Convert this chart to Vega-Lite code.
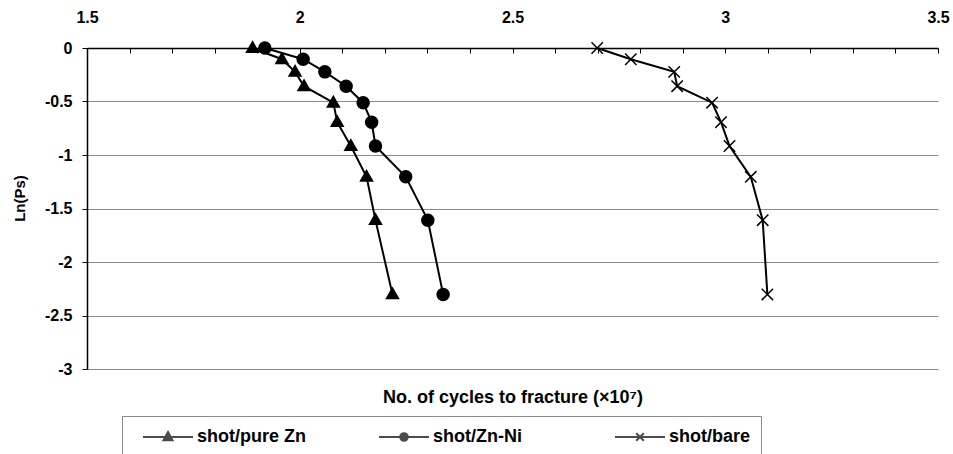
{
  "$schema": "https://vega.github.io/schema/vega-lite/v6.json",
  "width": 851,
  "height": 321,
  "autosize": {"type": "none"},
  "padding": {"left": 87, "top": 48, "right": 15, "bottom": 85},
  "background": "white",
  "config": {
    "view": {"stroke": null},
    "font": "Liberation Sans",
    "axis": {
      "labelFont": "Liberation Sans",
      "labelFontWeight": "bold",
      "labelFontSize": 16,
      "labelColor": "black",
      "titleFont": "Liberation Sans",
      "titleFontWeight": "bold",
      "titleFontSize": 18,
      "titleColor": "black"
    }
  },
  "data": {
    "values": [
      {"series": "shot/pure Zn", "cycles": 1.889, "lnps": 0},
      {"series": "shot/pure Zn", "cycles": 1.958, "lnps": -0.105},
      {"series": "shot/pure Zn", "cycles": 1.989, "lnps": -0.223},
      {"series": "shot/pure Zn", "cycles": 2.010, "lnps": -0.357},
      {"series": "shot/pure Zn", "cycles": 2.079, "lnps": -0.511},
      {"series": "shot/pure Zn", "cycles": 2.088, "lnps": -0.693},
      {"series": "shot/pure Zn", "cycles": 2.120, "lnps": -0.916},
      {"series": "shot/pure Zn", "cycles": 2.157, "lnps": -1.204},
      {"series": "shot/pure Zn", "cycles": 2.178, "lnps": -1.609},
      {"series": "shot/pure Zn", "cycles": 2.218, "lnps": -2.303},
      {"series": "shot/Zn-Ni", "cycles": 1.918, "lnps": 0},
      {"series": "shot/Zn-Ni", "cycles": 2.008, "lnps": -0.105},
      {"series": "shot/Zn-Ni", "cycles": 2.059, "lnps": -0.223},
      {"series": "shot/Zn-Ni", "cycles": 2.109, "lnps": -0.357},
      {"series": "shot/Zn-Ni", "cycles": 2.149, "lnps": -0.511},
      {"series": "shot/Zn-Ni", "cycles": 2.169, "lnps": -0.693},
      {"series": "shot/Zn-Ni", "cycles": 2.178, "lnps": -0.916},
      {"series": "shot/Zn-Ni", "cycles": 2.249, "lnps": -1.204},
      {"series": "shot/Zn-Ni", "cycles": 2.301, "lnps": -1.609},
      {"series": "shot/Zn-Ni", "cycles": 2.337, "lnps": -2.303},
      {"series": "shot/bare", "cycles": 2.699, "lnps": 0},
      {"series": "shot/bare", "cycles": 2.778, "lnps": -0.105},
      {"series": "shot/bare", "cycles": 2.880, "lnps": -0.223},
      {"series": "shot/bare", "cycles": 2.887, "lnps": -0.357},
      {"series": "shot/bare", "cycles": 2.969, "lnps": -0.511},
      {"series": "shot/bare", "cycles": 2.990, "lnps": -0.693},
      {"series": "shot/bare", "cycles": 3.010, "lnps": -0.916},
      {"series": "shot/bare", "cycles": 3.060, "lnps": -1.204},
      {"series": "shot/bare", "cycles": 3.088, "lnps": -1.609},
      {"series": "shot/bare", "cycles": 3.099, "lnps": -2.303}
    ]
  },
  "layer": [
    {
      "mark": {"type": "line", "color": "black", "strokeWidth": 2},
      "encoding": {
        "x": {
          "field": "cycles", "type": "quantitative",
          "scale": {"domain": [1.5, 3.5], "nice": false, "zero": false},
          "axis": {
            "orient": "top", "title": null,
            "values": [1.5,1.6,1.7,1.8,1.9,2,2.1,2.2,2.3,2.4,2.5,2.6,2.7,2.8,2.9,3,3.1,3.2,3.3,3.4,3.5],
            "labelExpr": "datum.value * 2 == round(datum.value * 2) ? toString(datum.value) : ''",
            "labelOverlap": false, "labelFlush": false,
            "tickSize": -5, "tickColor": "black", "tickWidth": 1,
            "domainColor": "black", "domainWidth": 1.5,
            "labelPadding": 28, "grid": false
          }
        },
        "y": {
          "field": "lnps", "type": "quantitative",
          "scale": {"domain": [-3, 0], "nice": false},
          "axis": {
            "title": "Ln(Ps)",
            "titleFontSize": 15,
            "titleY": 150,
            "values": [-3, -2.5, -2, -1.5, -1, -0.5, 0],
            "labelExpr": "toString(datum.value)",
            "grid": true, "gridColor": "#8a8a8a", "gridWidth": 1,
            "tickSize": 5, "tickColor": "black",
            "domainColor": "black", "domainWidth": 1.5,
            "labelPadding": 10, "titlePadding": 17
          }
        },
        "detail": {"field": "series"},
        "order": {"field": "lnps", "sort": "descending"}
      }
    },
    {
      "mark": {"type": "point", "filled": true, "fill": "black", "stroke": "black", "strokeWidth": 1.5, "size": 144, "opacity": 1},
      "encoding": {
        "x": {
          "field": "cycles", "type": "quantitative",
          "scale": {"domain": [1.5, 3.5], "nice": false, "zero": false},
          "axis": {
            "orient": "bottom", "title": "No. of cycles to fracture (×10⁷)",
            "labels": false, "ticks": false, "domain": false, "grid": false,
            "titlePadding": 19
          }
        },
        "y": {"field": "lnps", "type": "quantitative", "scale": {"domain": [-3, 0], "nice": false}, "axis": null},
        "shape": {
          "field": "series",
          "scale": {
            "domain": ["shot/pure Zn", "shot/Zn-Ni", "shot/bare"],
            "range": ["M0,-1.05L1,0.7L-1,0.7Z", "circle", "M-0.95,-0.95L0.95,0.95M-0.95,0.95L0.95,-0.95"]
          },
          "legend": null
        }
      }
    },
    {
      "transform": [{"filter": "datum.lnps > 1"}],
      "mark": {"type": "point", "filled": true, "fill": "black", "stroke": "black", "strokeWidth": 2, "size": 400},
      "encoding": {
        "x": {"field": "cycles", "type": "quantitative", "scale": {"domain": [1.5, 3.5], "nice": false, "zero": false}, "axis": null},
        "y": {"field": "lnps", "type": "quantitative", "scale": {"domain": [-3, 0], "nice": false}, "axis": null},
        "shape": {
          "field": "series",
          "scale": {
            "domain": ["shot/pure Zn", "shot/Zn-Ni", "shot/bare"],
            "range": [
              "M-2.5,0H2.5M0,-0.5L0.45,0.32L-0.45,0.32Z",
              "M-2.5,0H2.5M0.38,0A0.38,0.38 0 1,1 -0.38,0A0.38,0.38 0 1,1 0.38,0Z",
              "M-2.5,0H2.5M-0.38,-0.38L0.38,0.38M-0.38,0.38L0.38,-0.38"
            ]
          },
          "legend": {
            "title": null,
            "orient": "none",
            "legendX": 35,
            "legendY": 368,
            "direction": "horizontal",
            "columns": 3,
            "gridAlign": "all",
            "padding": 10,
            "strokeColor": "#8a8a8a",
            "symbolSize": 400,
            "symbolOffset": 25,
            "symbolStrokeWidth": 2,
            "labelOffset": 18,
            "columnPadding": 62,
            "labelFont": "Liberation Sans",
            "labelFontWeight": "bold",
            "labelFontSize": 18,
            "labelColor": "black",
            "labelLimit": 300,
            "encode": {
              "symbols": {
                "update": {
                  "stroke": {"value": "black"},
                  "strokeWidth": {"value": 2},
                  "fill": {"value": "black"},
                  "opacity": {"value": 1}
                }
              }
            }
          }
        }
      }
    }
  ],
  "resolve": {
    "axis": {"x": "independent", "y": "independent"},
    "scale": {"shape": "independent"}
  }
}
